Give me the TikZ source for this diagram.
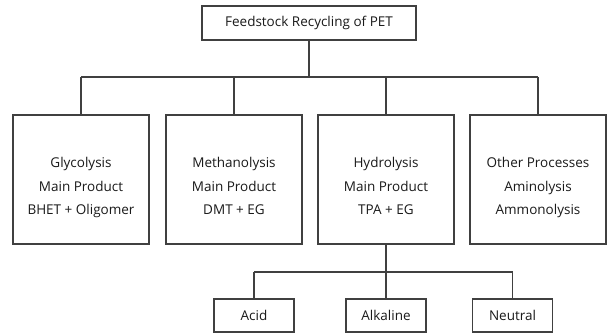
\documentclass[tikz,border=0pt]{standalone}
\usepackage{fontspec}
\setmainfont{Open Sans}
\usepackage{tikz}
\usetikzlibrary{positioning, calc}
\usepackage{xcolor}
\definecolor{LineGray}{HTML}{404040}
\definecolor{TextGray}{HTML}{1A1A1A}

\begin{document}
\begin{tikzpicture}[
    x=1pt, y=1pt,
    font=\fontsize{13.5}{23.5}\selectfont,
    line/.style={draw=LineGray, line width=1.4pt},
    box/.style={
        rectangle, draw=LineGray, line width=1.4pt, fill=white,
        text=TextGray, align=center, inner sep=0pt
    },
    head/.style={box, minimum width=214, minimum height=34},
    process/.style={box, minimum width=136, minimum height=129,
        text height=74pt, text depth=3pt},
    sub/.style={box, minimum width=80, minimum height=33}
]
    \useasboundingbox (0,0) rectangle (608,334);

    % Nodes
    \node[head] (pet) at (309,311) {Feedstock Recycling of PET};
    \node[process] (gly) at (81,154.5) {Glycolysis\\Main Product\\BHET + Oligomer};
    \node[process] (meth) at (234,154.5) {Methanolysis\\Main Product\\DMT + EG};
    \node[process] (hyd) at (386,154.5) {Hydrolysis\\Main Product\\TPA + EG};
    \node[process] (oth) at (538,154.5) {Other Processes\\Aminolysis\\Ammonolysis};
    \node[sub] (acid) at (254,18.5) {Acid};
    \node[sub] (alk) at (hyd.south |- acid) {Alkaline};
    \node[sub] (neu) at (512.5,18.5) {Neutral};

    \coordinate (bus) at (0,257);
    \coordinate (subbus) at (0,62);

    % Connectors
    \path[line] (pet.south) -- (pet.south |- bus);
    \path[line] (gly.north |- bus) -- (oth.north |- bus);
    \foreach \n in {gly, meth, hyd, oth}
        \path[line] (\n.north) -- (\n.north |- bus);
    \path[line] (hyd.south) -- (alk.north);
    \path[line] (acid.north |- subbus) -- (neu.north |- subbus);
    \path[line] (acid.north) -- (acid.north |- subbus);
    \path[line] (neu.north) -- (neu.north |- subbus);

\end{tikzpicture}
\end{document}
